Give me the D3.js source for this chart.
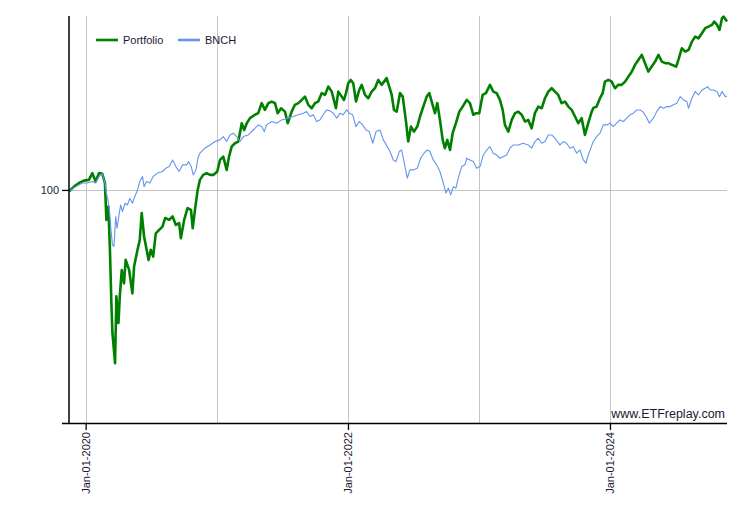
<!DOCTYPE html>
<html>
<head>
<meta charset="utf-8">
<script src="https://cdn.jsdelivr.net/npm/d3@7"></script>
<style>
  html, body { margin: 0; padding: 0; background: #fff; }
  svg { display: block; font-family: "Liberation Sans", Arial, sans-serif; }
</style>
</head>
<body>
<svg id="chart" width="750" height="530"></svg>
<script>
// ---- Data (decimal years, growth of 100) ----
const seriesNames = ["Portfolio", "BNCH"];
const yTickValues = [100];
const xLabelYears = [2020, 2022, 2024];
const xGridYears = [2020, 2021, 2022, 2023, 2024];
const yDomain = [30.34, 244.8];

const portfolioT = [
2019.873, 2019.911, 2019.949, 2019.987, 2020.025, 2020.051, 2020.076, 2020.102, 2020.127, 2020.147,
2020.158, 2020.173, 2020.185, 2020.196, 2020.204, 2020.224, 2020.234, 2020.250, 2020.260, 2020.275,
2020.292, 2020.305, 2020.331, 2020.356, 2020.369, 2020.395, 2020.412, 2020.427, 2020.445, 2020.479,
2020.496, 2020.514, 2020.534, 2020.560, 2020.585, 2020.605, 2020.636, 2020.662, 2020.687, 2020.712,
2020.725, 2020.750, 2020.776, 2020.802, 2020.815, 2020.834, 2020.853, 2020.870, 2020.895, 2020.921,
2020.947, 2020.972, 2021.002, 2021.023, 2021.048, 2021.074, 2021.092, 2021.112, 2021.137, 2021.163,
2021.189, 2021.208, 2021.227, 2021.252, 2021.290, 2021.315, 2021.341, 2021.366, 2021.392, 2021.418,
2021.443, 2021.463, 2021.489, 2021.519, 2021.540, 2021.570, 2021.595, 2021.621, 2021.647, 2021.672,
2021.697, 2021.723, 2021.748, 2021.773, 2021.799, 2021.824, 2021.850, 2021.876, 2021.908, 2021.926,
2021.952, 2021.969, 2021.985, 2022.002, 2022.021, 2022.040, 2022.061, 2022.086, 2022.105, 2022.130,
2022.155, 2022.181, 2022.206, 2022.231, 2022.257, 2022.295, 2022.315, 2022.334, 2022.351, 2022.372,
2022.397, 2022.418, 2022.443, 2022.460, 2022.481, 2022.504, 2022.529, 2022.550, 2022.575, 2022.601,
2022.621, 2022.639, 2022.664, 2022.682, 2022.702, 2022.723, 2022.740, 2022.758, 2022.779, 2022.799,
2022.824, 2022.850, 2022.876, 2022.906, 2022.931, 2022.957, 2022.977, 2023.002, 2023.028, 2023.053,
2023.084, 2023.109, 2023.135, 2023.160, 2023.181, 2023.198, 2023.224, 2023.250, 2023.275, 2023.300,
2023.326, 2023.351, 2023.376, 2023.402, 2023.427, 2023.453, 2023.479, 2023.504, 2023.529, 2023.555,
2023.580, 2023.605, 2023.631, 2023.656, 2023.682, 2023.708, 2023.733, 2023.758, 2023.784, 2023.809,
2023.834, 2023.860, 2023.874, 2023.898, 2023.924, 2023.944, 2023.962, 2023.987, 2024.013, 2024.038,
2024.063, 2024.089, 2024.115, 2024.140, 2024.166, 2024.191, 2024.216, 2024.242, 2024.267, 2024.292,
2024.318, 2024.344, 2024.369, 2024.395, 2024.420, 2024.445, 2024.471, 2024.504, 2024.521, 2024.547,
2024.573, 2024.598, 2024.624, 2024.649, 2024.674, 2024.700, 2024.725, 2024.750, 2024.776, 2024.794,
2024.815, 2024.834, 2024.853, 2024.865, 2024.891
];
const portfolioValues = [
99.2, 101.7, 103.6, 104.9, 105.3, 109.0, 104.4, 109.0, 108.6, 103.6,
85.8, 91.9, 73.6, 56.0, 48.1, 41.2, 58.0, 50.6, 58.0, 66.4,
62.0, 69.9, 66.4, 58.9, 67.6, 73.6, 77.4, 88.8, 78.8, 69.9,
73.6, 71.1, 80.1, 81.5, 82.9, 86.6, 85.8, 87.3, 83.6, 84.4,
78.1, 85.8, 91.1, 90.3, 82.2, 91.1, 100.0, 105.3, 108.0, 109.0,
108.0, 108.0, 109.9, 116.6, 118.6, 110.8, 118.6, 124.8, 127.0, 128.1,
140.7, 135.9, 140.7, 144.4, 146.9, 148.1, 155.9, 150.6, 155.9, 157.2,
155.9, 148.1, 151.9, 149.3, 140.7, 149.3, 154.6, 155.9, 158.5, 161.2,
154.6, 151.9, 155.9, 157.2, 164.1, 162.6, 169.7, 165.4, 151.9, 165.4,
161.2, 158.5, 164.1, 172.7, 175.6, 172.7, 157.2, 166.8, 171.2, 162.6,
159.9, 165.4, 168.3, 175.6, 171.2, 177.2, 169.7, 162.6, 150.6, 149.3,
164.1, 161.2, 141.9, 128.1, 138.3, 134.8, 138.3, 145.6, 153.2, 161.2,
164.1, 157.2, 148.1, 155.9, 143.1, 129.2, 123.8, 129.2, 122.7, 133.7,
140.7, 149.3, 153.2, 158.5, 155.9, 146.9, 148.1, 148.1, 162.6, 164.1,
171.2, 165.4, 164.1, 158.5, 150.6, 139.5, 134.8, 143.1, 148.1, 149.3,
146.9, 141.9, 143.1, 137.1, 148.1, 153.2, 151.9, 159.9, 165.4, 168.3,
165.4, 162.6, 155.9, 157.2, 153.2, 150.6, 145.6, 140.7, 144.4, 132.5,
140.7, 149.1, 152.2, 153.2, 159.9, 164.1, 174.1, 175.6, 174.1, 168.3,
171.2, 171.2, 174.1, 178.6, 183.2, 189.7, 194.5, 199.6, 191.3, 183.2,
188.0, 192.9, 199.6, 192.9, 191.3, 191.3, 189.7, 188.0, 194.5, 206.5,
203.0, 204.7, 213.6, 219.2, 217.3, 223.0, 228.8, 230.7, 232.7, 236.7,
232.7, 226.8, 240.8, 242.8, 236.7
];

const benchT = [
2019.873, 2019.924, 2019.975, 2020.013, 2020.051, 2020.076, 2020.102, 2020.127, 2020.147, 2020.158,
2020.170, 2020.183, 2020.193, 2020.204, 2020.216, 2020.229, 2020.239, 2020.254, 2020.267, 2020.280,
2020.300, 2020.318, 2020.336, 2020.356, 2020.374, 2020.395, 2020.412, 2020.433, 2020.445, 2020.463,
2020.489, 2020.514, 2020.547, 2020.585, 2020.611, 2020.636, 2020.662, 2020.687, 2020.712, 2020.738,
2020.769, 2020.784, 2020.804, 2020.819, 2020.840, 2020.855, 2020.870, 2020.908, 2020.947, 2020.985,
2021.023, 2021.048, 2021.074, 2021.099, 2021.124, 2021.150, 2021.176, 2021.201, 2021.239, 2021.277,
2021.315, 2021.341, 2021.361, 2021.379, 2021.418, 2021.456, 2021.494, 2021.544, 2021.582, 2021.621,
2021.659, 2021.685, 2021.710, 2021.735, 2021.761, 2021.786, 2021.811, 2021.837, 2021.863, 2021.888,
2021.914, 2021.939, 2021.964, 2021.990, 2022.010, 2022.036, 2022.061, 2022.086, 2022.112, 2022.137,
2022.163, 2022.189, 2022.214, 2022.244, 2022.270, 2022.300, 2022.321, 2022.346, 2022.366, 2022.392,
2022.410, 2022.435, 2022.453, 2022.473, 2022.499, 2022.529, 2022.555, 2022.580, 2022.605, 2022.626,
2022.651, 2022.677, 2022.702, 2022.728, 2022.748, 2022.766, 2022.784, 2022.804, 2022.824, 2022.842,
2022.868, 2022.893, 2022.906, 2022.931, 2022.957, 2022.982, 2023.008, 2023.033, 2023.059, 2023.084,
2023.109, 2023.135, 2023.160, 2023.186, 2023.211, 2023.237, 2023.262, 2023.300, 2023.338, 2023.376,
2023.402, 2023.427, 2023.453, 2023.479, 2023.504, 2023.529, 2023.555, 2023.580, 2023.618, 2023.644,
2023.669, 2023.695, 2023.720, 2023.746, 2023.771, 2023.796, 2023.817, 2023.834, 2023.860, 2023.873,
2023.898, 2023.924, 2023.949, 2023.975, 2024.000, 2024.025, 2024.051, 2024.076, 2024.102, 2024.127,
2024.153, 2024.178, 2024.204, 2024.229, 2024.250, 2024.275, 2024.300, 2024.331, 2024.356, 2024.382,
2024.407, 2024.433, 2024.458, 2024.483, 2024.509, 2024.534, 2024.560, 2024.586, 2024.598, 2024.624,
2024.649, 2024.674, 2024.700, 2024.725, 2024.743, 2024.763, 2024.789, 2024.815, 2024.834, 2024.853,
2024.878, 2024.891
];
const benchValues = [
99.2, 101.7, 103.6, 103.6, 104.4, 103.6, 107.1, 108.6, 103.6, 98.4,
95.0, 88.8, 81.5, 75.5, 74.9, 87.3, 82.2, 88.0, 92.6, 89.5,
93.4, 92.6, 95.8, 93.4, 96.6, 100.0, 104.4, 107.1, 101.7, 104.4,
103.6, 107.1, 109.0, 109.9, 111.8, 112.7, 116.6, 112.7, 109.9, 113.7,
113.7, 115.6, 112.7, 108.0, 110.8, 117.8, 120.7, 123.8, 125.9, 128.1,
129.2, 131.4, 128.1, 132.5, 133.7, 131.4, 128.1, 131.4, 132.5, 135.9,
139.5, 138.3, 134.8, 139.5, 141.9, 140.7, 143.1, 144.4, 145.6, 146.9,
148.1, 149.3, 145.6, 146.9, 141.9, 143.1, 146.9, 150.6, 149.9, 148.1,
144.4, 148.1, 146.9, 150.6, 148.1, 146.9, 138.3, 141.9, 139.5, 135.9,
134.8, 127.0, 134.8, 135.9, 129.2, 124.8, 121.7, 116.6, 115.6, 121.7,
122.7, 112.7, 106.2, 110.8, 110.8, 111.8, 117.6, 120.7, 122.7, 121.7,
116.6, 113.7, 109.9, 103.6, 98.4, 100.9, 97.5, 101.7, 100.9, 106.2,
112.7, 113.7, 117.6, 116.6, 115.6, 111.8, 112.7, 119.6, 122.7, 124.8,
120.7, 119.6, 117.6, 118.6, 119.6, 123.8, 125.9, 125.9, 127.0, 125.9,
123.8, 128.1, 130.3, 127.0, 128.1, 132.5, 132.5, 130.3, 125.9, 128.1,
127.0, 123.8, 124.8, 120.7, 122.7, 116.6, 114.7, 119.6, 125.3, 128.1,
131.4, 133.7, 139.5, 139.5, 140.7, 138.3, 140.7, 143.1, 141.9, 144.4,
146.9, 148.1, 150.6, 150.6, 149.3, 145.6, 140.7, 144.4, 149.3, 153.2,
151.9, 153.2, 153.2, 154.6, 155.9, 161.2, 158.5, 157.2, 151.9, 159.9,
165.4, 162.6, 166.8, 168.3, 169.7, 166.8, 166.8, 165.4, 161.2, 165.4,
161.2, 161.8
];

// ---- Helpers ----
function decYearToDate(t) {
  const y = Math.floor(t);
  const s = Date.UTC(y, 0, 1), e = Date.UTC(y + 1, 0, 1);
  return new Date(s + (t - y) * (e - s));
}
const portfolio = portfolioT.map((t, i) => ({ date: decYearToDate(t), value: portfolioValues[i] }));
const bench = benchT.map((t, i) => ({ date: decYearToDate(t), value: benchValues[i] }));

// ---- Layout ----
const plot = { left: 69, right: 727, top: 16, bottom: 423 };
const svg = d3.select("#chart");
svg.append("rect").attr("width", 750).attr("height", 530).attr("fill", "#fff");

const allDates = portfolio.map(d => d.date).concat(bench.map(d => d.date));
const x = d3.scaleUtc().domain(d3.extent(allDates)).range([plot.left, plot.right]);
const y = d3.scaleLog().domain(yDomain).range([423, 15]);

const gridColor = "#c4c4c4";

// vertical grid lines
svg.append("g").selectAll("line").data(xGridYears).join("line")
  .attr("x1", d => Math.round(x(decYearToDate(d))) + 0.5)
  .attr("x2", d => Math.round(x(decYearToDate(d))) + 0.5)
  .attr("y1", plot.top).attr("y2", plot.bottom)
  .attr("stroke", gridColor).attr("stroke-width", 1);

// horizontal grid lines
svg.append("g").selectAll("line").data(yTickValues).join("line")
  .attr("x1", plot.left).attr("x2", plot.right)
  .attr("y1", d => Math.round(y(d)) + 0.5).attr("y2", d => Math.round(y(d)) + 0.5)
  .attr("stroke", gridColor).attr("stroke-width", 1);

// lines
const line = d3.line().x(d => x(d.date)).y(d => y(d.value));
svg.append("path").datum(portfolio)
  .attr("fill", "none").attr("stroke", "#008000").attr("stroke-width", 2.6)
  .attr("stroke-linejoin", "round").attr("d", line);
svg.append("path").datum(bench)
  .attr("fill", "none").attr("stroke", "#6495ED").attr("stroke-width", 1.1)
  .attr("stroke-linejoin", "round").attr("d", line);

// Axes
const yAxis = d3.axisLeft(y).tickValues(yTickValues).tickFormat(d3.format("d")).tickSize(7).tickPadding(3);
const gy = svg.append("g").attr("transform", `translate(${plot.left},0)`).call(yAxis);
gy.select(".domain").remove();
gy.selectAll(".tick line").attr("stroke", "#000").attr("stroke-width", 1.3);
gy.selectAll(".tick text").attr("fill", "#1a1a33").style("font-size", "11px")
  .style("font-family", '"Liberation Sans", Arial, sans-serif');

const xAxis = d3.axisBottom(x).tickValues(xLabelYears.map(decYearToDate))
  .tickFormat(d3.utcFormat("%b-%d-%Y")).tickSize(7);
const gx = svg.append("g").attr("transform", `translate(0,${plot.bottom})`).call(xAxis);
gx.select(".domain").remove();
gx.selectAll(".tick line").attr("stroke", "#000").attr("stroke-width", 1.3);
gx.selectAll(".tick text")
  .attr("transform", "rotate(-90)")
  .attr("x", -9).attr("y", 0).attr("dy", "0.35em")
  .style("text-anchor", "end")
  .attr("fill", "#1a1a33").style("font-size", "11px")
  .style("font-family", '"Liberation Sans", Arial, sans-serif');

// axis lines
svg.append("line").attr("x1", plot.left).attr("x2", plot.left)
  .attr("y1", plot.top).attr("y2", plot.bottom + 0.5)
  .attr("stroke", "#000").attr("stroke-width", 1.5);
svg.append("line").attr("x1", 62).attr("x2", plot.right)
  .attr("y1", plot.bottom + 0.5).attr("y2", plot.bottom + 0.5)
  .attr("stroke", "#000").attr("stroke-width", 1.5);

// legend
const legend = svg.append("g");
const legendItems = [
  { name: seriesNames[0], color: "#008000", width: 2.6, x0: 96 },
  { name: seriesNames[1], color: "#6495ED", width: 2.6, x0: 178 }
];
legendItems.forEach(it => {
  legend.append("line").attr("x1", it.x0).attr("x2", it.x0 + 22)
    .attr("y1", 40).attr("y2", 40).attr("stroke", it.color).attr("stroke-width", it.width);
  legend.append("text").attr("x", it.x0 + 27).attr("y", 44)
    .attr("fill", "#1a1a33").style("font-size", "11px").text(it.name);
});

// watermark
svg.append("text").attr("x", 725).attr("y", 418).attr("text-anchor", "end")
  .attr("fill", "#1a1a33").style("font-size", "12.5px").text("www.ETFreplay.com");
</script>
</body>
</html>
